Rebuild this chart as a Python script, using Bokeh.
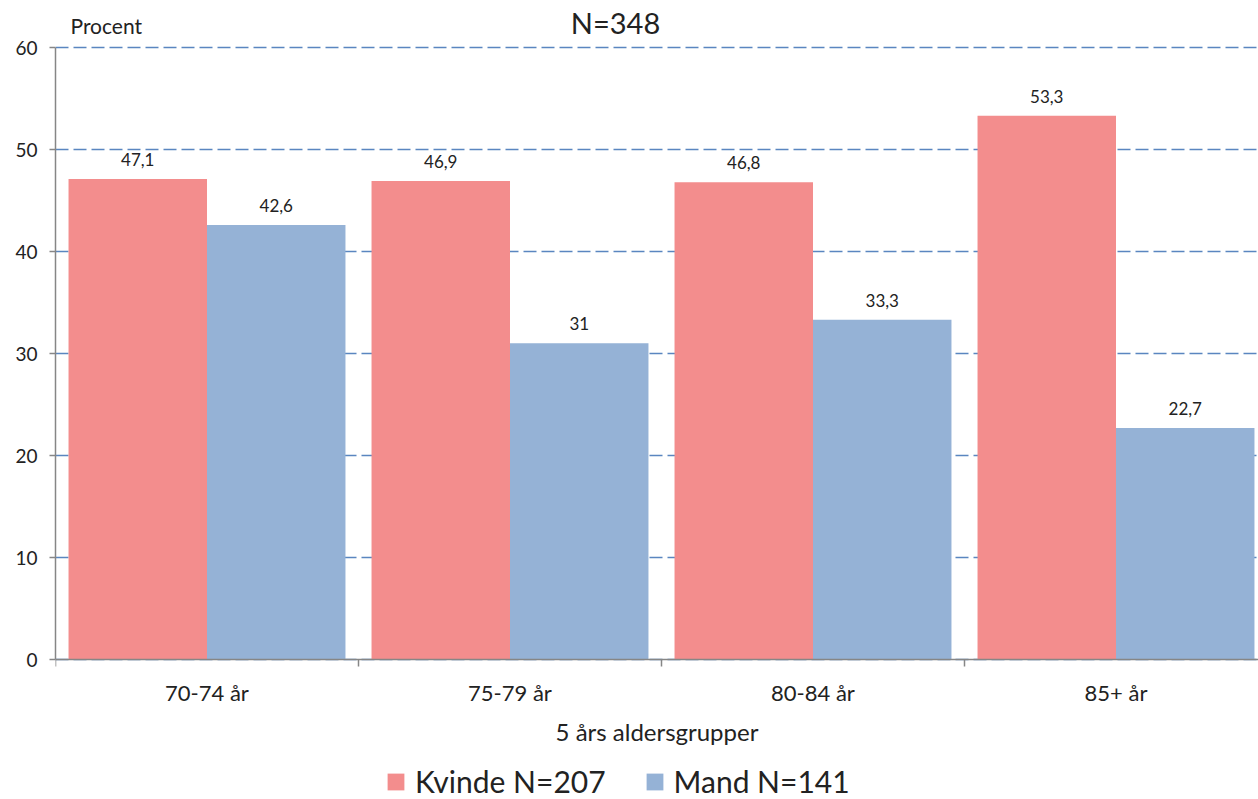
from bokeh.plotting import figure
from bokeh.models import Range1d, FixedTicker, Label, Legend, LegendItem, ColumnDataSource
from bokeh.embed import file_html
from bokeh.resources import INLINE

categories = ["70-74 år", "75-79 år", "80-84 år", "85+ år"]
kvinde = [47.1, 46.9, 46.8, 53.3]
mand = [42.6, 31.0, 33.3, 22.7]
series_names = ["Kvinde N=207", "Mand N=141"]
y_ticks = [0, 10, 20, 30, 40, 50, 60]

FONT = "Lato"
PINK = "#F38D8D"
BLUE = "#95B2D6"
TXT = "#222222"
PX = 10.2  # pixels per unit on y

def fmt(v):
    return f"{v:g}".replace(".", ",")

p = figure(width=1258, height=799, output_backend="svg", toolbar_location=None,
           x_range=Range1d(0, 1203 / 303), y_range=Range1d(-140 / PX, 60 + 47 / PX),
           frame_width=1203, frame_height=799,
           min_border_left=55, min_border_top=0, min_border_right=0, min_border_bottom=0)
p.outline_line_color = None
p.background_fill_color = "white"

idx = list(range(len(categories)))
src_k = ColumnDataSource(dict(x=[i + 0.2715 for i in idx], top=kvinde, lab=[fmt(v) for v in kvinde]))
src_m = ColumnDataSource(dict(x=[i + 0.7285 for i in idx], top=mand, lab=[fmt(v) for v in mand]))

rk = p.vbar(x="x", top="top", bottom=0, width=0.457, source=src_k, fill_color=PINK, line_color=None)
rm = p.vbar(x="x", top="top", bottom=0, width=0.457, source=src_m, fill_color=BLUE, line_color=None)

for s in (src_k, src_m):
    p.text(x="x", y="top", text="lab", source=s, text_align="center", text_baseline="bottom",
           y_offset=-13, text_font_size="17px", text_color=TXT, text_font={"value": FONT})

# axes
p.xaxis.fixed_location = 0
p.xaxis.ticker = FixedTicker(ticks=[i + 0.5 for i in idx], minor_ticks=[0, 1, 2, 3, 4])
p.xaxis.major_label_overrides = {i + 0.5: c for i, c in enumerate(categories)}
p.xaxis.major_tick_out = 0
p.xaxis.major_tick_in = 0
p.xaxis.minor_tick_out = 7
p.xaxis.minor_tick_in = 0
p.xaxis.minor_tick_line_color = "#868686"
p.xaxis.minor_tick_line_width = 1.5
p.xaxis.axis_line_color = "#868686"
p.xaxis.axis_line_width = 1.5
p.xaxis.major_label_text_font_size = "22px"
p.xaxis.major_label_text_font = FONT
p.xaxis.major_label_text_color = TXT
p.xaxis.major_label_standoff = 12
p.xaxis.axis_label = "5 års aldersgrupper"
p.xaxis.axis_label_text_font_size = "24px"
p.xaxis.axis_label_text_font = FONT
p.xaxis.axis_label_text_font_style = "normal"
p.xaxis.axis_label_text_color = TXT
p.xaxis.axis_label_standoff = 8

p.yaxis.ticker = FixedTicker(ticks=y_ticks)
p.yaxis.bounds = (0, 60)
p.yaxis.major_tick_out = 6
p.yaxis.major_tick_in = 0
p.yaxis.minor_tick_out = 0
p.yaxis.minor_tick_in = 0
p.yaxis.major_tick_line_color = "#868686"
p.yaxis.major_tick_line_width = 1.5
p.yaxis.axis_line_color = "#868686"
p.yaxis.axis_line_width = 1.5
p.yaxis.major_label_text_font_size = "19px"
p.yaxis.major_label_text_font = FONT
p.yaxis.major_label_text_color = TXT
p.yaxis.major_label_standoff = 12

p.xgrid.visible = False
p.ygrid.grid_line_color = "#5A86C0"
p.ygrid.grid_line_width = 1.5
p.ygrid.grid_line_dash = "13 5"

p.add_layout(Label(x=(70 - 55) / 303, y=(659 - 25) / PX, text="Procent", text_font_size="21px",
                   text_font=FONT, text_color=TXT, text_baseline="middle", text_align="left"))
p.add_layout(Label(x=(615 - 55) / 303, y=(659 - 22) / PX, text="N=348", text_font_size="29px",
                   text_font=FONT, text_color=TXT, text_baseline="middle", text_align="center"))

legend = Legend(items=[LegendItem(label=series_names[0], renderers=[rk]),
                       LegendItem(label=series_names[1], renderers=[rm])],
                orientation="horizontal", location=(330, 0),
                label_text_font_size="30px", label_text_font=FONT, label_text_color=TXT,
                glyph_width=21, glyph_height=21, spacing=38, label_standoff=9,
                border_line_color=None, background_fill_alpha=0, margin=0, padding=2)
p.add_layout(legend, "center")

open("out.html", "w").write(file_html(p, INLINE))
